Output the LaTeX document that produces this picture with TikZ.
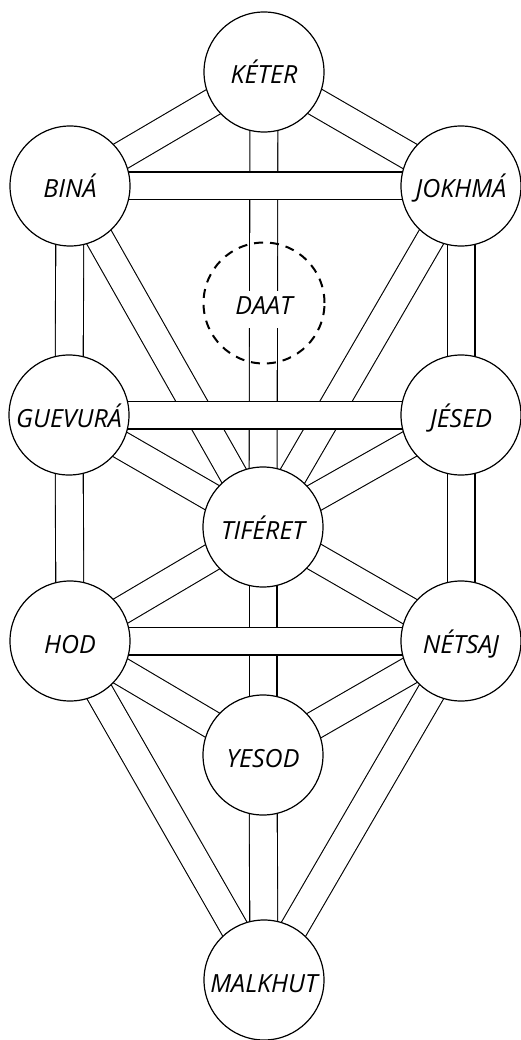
\documentclass[tikz,border=0pt]{standalone}
\usepackage{fontspec}
\setmainfont{Open Sans}
\pgfdeclarelayer{bg}
\pgfsetlayers{bg,main}
\tikzset{
  sef/.style={circle, draw, line width=1.2pt, fill=white, minimum size=120pt,
    inner sep=0pt, font=\fontsize{25}{25}\selectfont\itshape,
    text height=24pt, text depth=0pt},
  daatc/.style={circle, draw, line width=2pt, dash pattern=on 9pt off 7pt,
    minimum size=121pt, inner sep=0pt},
  daatl/.style={fill=white, inner ysep=0pt, inner xsep=4pt,
    font=\fontsize{25}{25}\selectfont\itshape, text height=23pt, text depth=14pt, anchor=base},
  chanout/.style={line width=29pt, black},
  chanin/.style={line width=26.8pt, white},
}
\newcommand{\chan}[2]{%
  \draw[chanout] (#1.center) -- (#2.center);
  \draw[chanin] (#1.center) -- (#2.center);}
\begin{document}
\begin{tikzpicture}[x=1pt, y=-1pt]
\useasboundingbox (0,0) rectangle (521,1040);
% sefirot
\node[sef] (keter)   at (264,72)  {KÉTER};
\node[sef] (bina)    at (70,186)  {BINÁ};
\node[sef] (jokhma)  at (461,186) {JOKHMÁ};
\node[daatc] (daat)  at (264,303) {};
\node[daatl] (daatt) at (264,314) {DAAT};
\node[sef] (guevura) at (69,415)  {GUEVURÁ};
\node[sef] (jesed)   at (461,415) {JÉSED};
\node[sef] (tiferet) at (263,527) {TIFÉRET};
\node[sef] (hod)     at (70,641)  {HOD};
\node[sef] (netsaj)  at (461,641) {NÉTSAJ};
\node[sef] (yesod)   at (263,755) {YESOD};
\node[sef] (malkhut) at (264,980) {MALKHUT};
% paths
\begin{pgfonlayer}{bg}
\chan{keter}{bina}
\chan{keter}{jokhma}
\chan{keter}{tiferet}
\chan{bina}{guevura}
\chan{bina}{tiferet}
\chan{jokhma}{jesed}
\chan{jokhma}{tiferet}
\chan{guevura}{tiferet}
\chan{guevura}{hod}
\chan{jesed}{tiferet}
\chan{jesed}{netsaj}
\chan{tiferet}{hod}
\chan{tiferet}{netsaj}
\chan{tiferet}{yesod}
\chan{hod}{yesod}
\chan{hod}{malkhut}
\chan{netsaj}{yesod}
\chan{netsaj}{malkhut}
\chan{yesod}{malkhut}
\chan{bina}{jokhma}
\chan{guevura}{jesed}
\chan{hod}{netsaj}
\end{pgfonlayer}
\end{tikzpicture}
\end{document}
